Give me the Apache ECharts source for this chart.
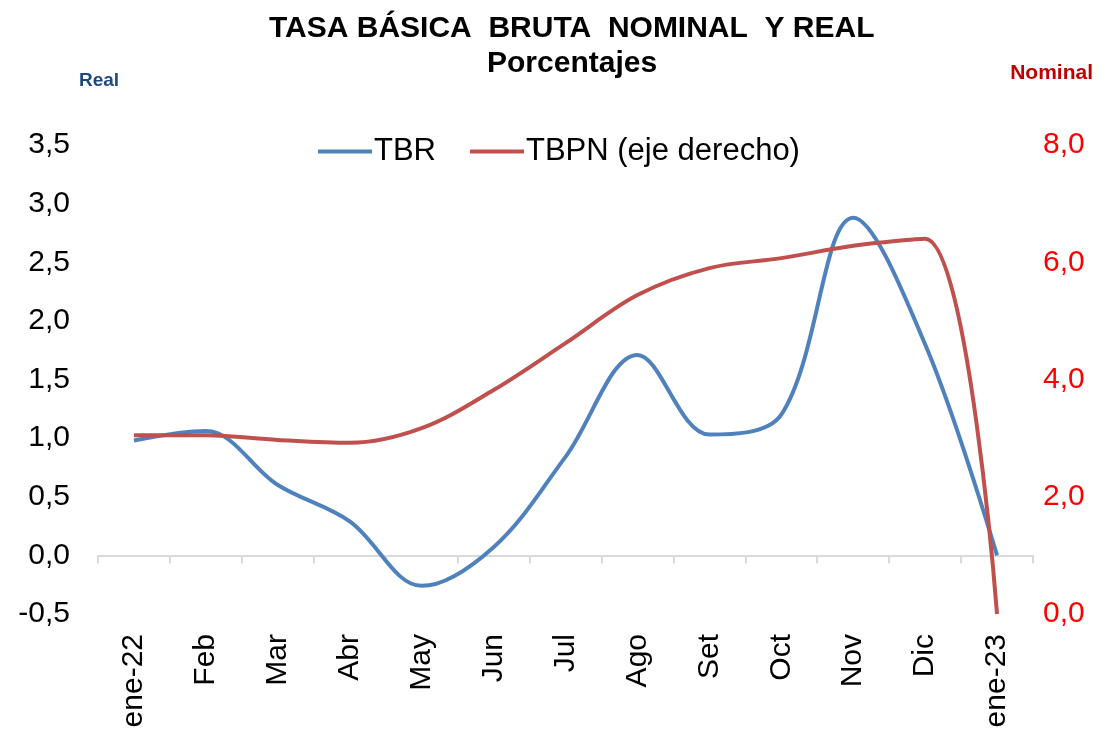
<!DOCTYPE html>
<html>
<head>
<meta charset="utf-8">
<script src="https://cdn.jsdelivr.net/npm/echarts@6/dist/echarts.min.js"></script>
<style>
  html, body { margin: 0; padding: 0; background: #ffffff; }
  #chart { width: 1108px; height: 736px; }
</style>
</head>
<body>
<div id="chart"></div>
<script>
// Monthly categories
const months = ['ene-22', 'Feb', 'Mar', 'Abr', 'May', 'Jun', 'Jul', 'Ago', 'Set', 'Oct', 'Nov', 'Dic', 'ene-23'];
// Tasa básica bruta real (left axis, %)
const tbr = [0.98, 1.06, 0.60, 0.29, -0.26, 0.07, 0.84, 1.71, 1.03, 1.20, 2.88, 1.80, 0.00];
// Tasa básica bruta nominal (right axis, %)
const tbpn = [3.05, 3.05, 2.97, 2.92, 3.17, 3.82, 4.62, 5.44, 5.90, 6.07, 6.28, 6.40, 0.00];

const fmt = v => v.toFixed(1).replace('.', ',');
const sans = '"Liberation Sans", Arial, sans-serif';

const chart = echarts.init(document.getElementById('chart'));
chart.setOption({
  animation: false,
  backgroundColor: '#ffffff',
  title: [
    { text: 'TASA BÁSICA  BRUTA  NOMINAL  Y REAL', left: 264, top: 9,
      textStyle: { fontFamily: sans, fontWeight: 'bold', fontSize: 30, color: '#000' } },
    { text: 'Porcentajes', left: 482, top: 44,
      textStyle: { fontFamily: sans, fontWeight: 'bold', fontSize: 30, color: '#000' } },
    { text: 'Real', left: 74, top: 66,
      textStyle: { fontFamily: sans, fontWeight: 'bold', fontSize: 19, color: '#1F497D' } },
    { text: 'Nominal', right: 10, top: 58,
      textStyle: { fontFamily: sans, fontWeight: 'bold', fontSize: 21, color: '#C00000' } }
  ],
  legend: {
    top: 131, left: 313,
    itemWidth: 54, itemHeight: 4, itemGap: 34,
    icon: 'rect',
    textStyle: { fontFamily: sans, fontSize: 31, color: '#000', padding: [0, 0, 0, -3] },
    data: ['TBR', 'TBPN (eje derecho)']
  },
  grid: { left: 98, right: 75, top: 145, bottom: 122 },
  xAxis: [
    {
      type: 'category', data: months, boundaryGap: true,
      axisLine: { onZero: true, onZeroAxisIndex: 0, lineStyle: { color: '#D9D9D9', width: 2 } },
      axisTick: { show: true, length: 8, lineStyle: { color: '#D9D9D9', width: 2 } },
      axisLabel: { show: false }
    },
    {
      type: 'category', data: months, boundaryGap: true, position: 'bottom',
      axisLine: { show: false }, axisTick: { show: false },
      axisLabel: { rotate: 90, margin: 20, fontFamily: sans, fontSize: 30, color: '#000' }
    }
  ],
  yAxis: [
    {
      type: 'value', min: -0.5, max: 3.5, interval: 0.5,
      axisLine: { show: false }, axisTick: { show: false }, splitLine: { show: false },
      axisLabel: { formatter: fmt, margin: 28, fontFamily: sans, fontSize: 30, color: '#000' }
    },
    {
      type: 'value', min: 0, max: 8, interval: 2, position: 'right',
      axisLine: { show: false }, axisTick: { show: false }, splitLine: { show: false },
      axisLabel: { formatter: fmt, margin: 10, fontFamily: sans, fontSize: 30, color: '#FF0000' }
    }
  ],
  series: [
    {
      name: 'TBR', type: 'line', data: tbr, xAxisIndex: 0, yAxisIndex: 0,
      smooth: 0.35, symbol: 'none',
      lineStyle: { color: '#4F81BD', width: 4 }, itemStyle: { color: '#4F81BD' }
    },
    {
      name: 'TBPN (eje derecho)', type: 'line', data: tbpn, xAxisIndex: 0, yAxisIndex: 1,
      smooth: 0.35, symbol: 'none',
      lineStyle: { color: '#C0504D', width: 4 }, itemStyle: { color: '#C0504D' }
    }
  ]
});
</script>
</body>
</html>
